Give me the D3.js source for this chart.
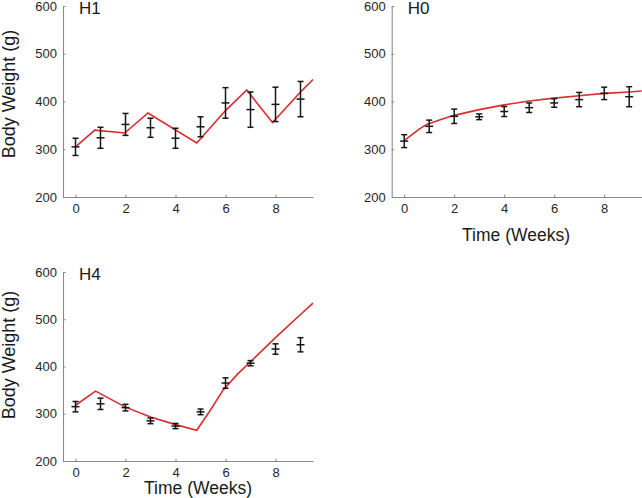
<!DOCTYPE html>
<html>
<head>
<meta charset="utf-8">
<script src="https://cdnjs.cloudflare.com/ajax/libs/d3/7.8.5/d3.min.js"></script>
<style>
  html, body { margin: 0; padding: 0; background: #fff; }
  svg { display: block; }
  text { font-family: "Liberation Sans", Arial, Helvetica, sans-serif; }
</style>
</head>
<body>
<svg id="chart" width="642" height="498"></svg>
<script>
// ---- data ----
const weeks = [0, 1, 2, 3, 4, 5, 6, 7, 8, 9];
const xTicks = [0, 2, 4, 6, 8];
const yTicks = [200, 300, 400, 500, 600];

const h1Mean = [305, 324, 352, 345, 323, 347, 397, 383, 394, 405];
const h1Err  = [18, 22, 23, 20, 21, 21, 32, 37, 36, 37];
const h1ModelT = [0, 0.77, 1.97, 2.9, 4.85, 6, 6.85, 7.88, 9, 9.5];
const h1ModelY = [305, 340, 334, 376, 313, 381, 424, 356, 420, 446];

const h0Mean = [317, 348, 369, 368, 379, 387, 397, 404, 417, 410];
const h0Err  = [13.5, 13, 15, 6, 10.5, 10, 9, 15, 13, 21];
const h0ModelT = [0, 0.3, 0.6, 0.9, 1.5, 2, 3, 4, 5, 6, 7, 8, 9, 9.5];
const h0ModelY = [318, 330, 342, 352, 363, 371, 383, 393, 401, 407, 412, 417, 420, 422];

const h4Mean = [315, 321, 313, 285, 274, 304, 365, 407, 437, 446];
const h4Err  = [11, 12, 7, 6, 5.5, 6, 11, 5.5, 11, 15];
const h4ModelT = [0, 0.8, 2, 3, 4, 4.85, 5.4, 5.9, 6.5, 7, 8, 9, 9.5];
const h4ModelY = [318, 348, 314, 293, 277, 265, 308, 350, 385, 410, 461, 510, 534];

const panels = [
  { name: "H1", mean: h1Mean, err: h1Err, mt: h1ModelT, my: h1ModelY,
    x0: 63, x1: 313, y0: 6, y1: 197, ylab: true, ylabY: 94, xlab: false },
  { name: "H0", mean: h0Mean, err: h0Err, mt: h0ModelT, my: h0ModelY,
    x0: 391.7, x1: 641.7, y0: 6, y1: 197, ylab: false, xlab: true, xlabX: 516, xlabY: 241 },
  { name: "H4", mean: h4Mean, err: h4Err, mt: h4ModelT, my: h4ModelY,
    x0: 63, x1: 313, y0: 272, y1: 461, ylab: true, ylabY: 355, xlab: true, xlabX: 198, xlabY: 494 }
];

const svg = d3.select("#chart");
const axisColor = "#8a8a8a";
const textColor = "#262626";
const red = "#dc2a2e";

panels.forEach(p => {
  const x = d3.scaleLinear().domain([-0.5, 9.5]).range([p.x0, p.x1]);
  const y = d3.scaleLinear().domain([200, 600]).range([p.y1, p.y0]);
  const g = svg.append("g");

  const xa = g.append("g").attr("transform", `translate(0,${p.y1})`)
    .call(d3.axisBottom(x).tickValues(xTicks).tickSizeInner(-2.5).tickSizeOuter(0).tickPadding(7));
  const ya = g.append("g").attr("transform", `translate(${p.x0},0)`)
    .call(d3.axisLeft(y).tickValues(yTicks).tickSizeInner(-2.5).tickSizeOuter(0).tickPadding(6));
  [xa, ya].forEach(a => {
    a.select(".domain").attr("stroke", axisColor).attr("stroke-width", 1.1);
    a.selectAll(".tick line").attr("stroke", axisColor).attr("stroke-width", 1);
    a.selectAll(".tick text").attr("fill", textColor).style("font-size", "13px")
      .style("font-family", "'Liberation Sans', Arial, sans-serif");
  });

  // model line
  const line = d3.line().x(d => x(d[0])).y(d => y(d[1]));
  g.append("path")
    .datum(p.mt.map((t, i) => [t, p.my[i]]))
    .attr("d", line)
    .attr("fill", "none")
    .attr("stroke", red)
    .attr("stroke-width", 1.6)
    .attr("stroke-linejoin", "miter");

  // error bars
  const eb = g.append("g").attr("stroke", "#161616").attr("stroke-width", 1.5);
  weeks.forEach((w, i) => {
    const cx = x(w), m = p.mean[i], e = p.err[i];
    eb.append("line").attr("x1", cx).attr("x2", cx).attr("y1", y(m - e)).attr("y2", y(m + e));
    eb.append("line").attr("x1", cx - 3).attr("x2", cx + 3).attr("y1", y(m + e)).attr("y2", y(m + e));
    eb.append("line").attr("x1", cx - 3).attr("x2", cx + 3).attr("y1", y(m - e)).attr("y2", y(m - e));
    eb.append("line").attr("x1", cx - 4).attr("x2", cx + 4).attr("y1", y(m)).attr("y2", y(m));
  });

  // panel title
  g.append("text").attr("x", p.x0 + 16).attr("y", p.y0 + 7.5)
    .attr("fill", "#1a1a1a").style("font-size", "17px").text(p.name);

  if (p.ylab) {
    g.append("text")
      .attr("transform", `translate(15,${p.ylabY}) rotate(-90)`)
      .attr("text-anchor", "middle").attr("fill", "#1a1a1a")
      .style("font-size", "18px").text("Body Weight (g)");
  }
  if (p.xlab) {
    g.append("text").attr("x", p.xlabX).attr("y", p.xlabY)
      .attr("text-anchor", "middle").attr("fill", "#1a1a1a")
      .style("font-size", "17.5px").text("Time (Weeks)");
  }
});
</script>
</body>
</html>
